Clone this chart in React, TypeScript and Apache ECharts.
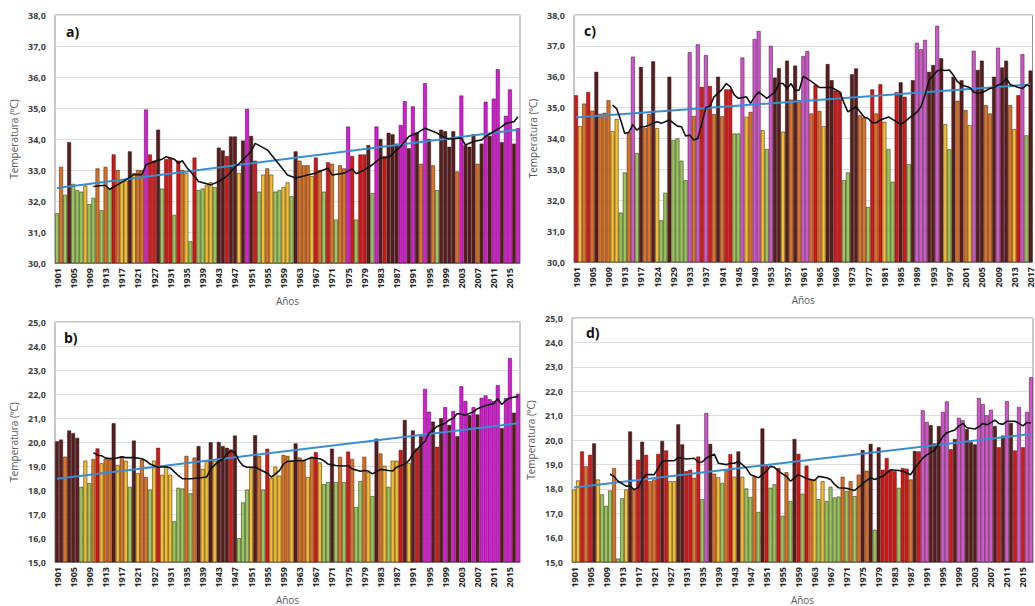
import React, { useEffect, useRef } from "react";
import * as echarts from "echarts";

function yr(a: number, b: number): string[] {
  const r: string[] = [];
  for (let i = a; i <= b; i++) r.push(String(i));
  return r;
}

// Categories (some early years are absent in the source, as its tick labels show)
const yearsABD = [...yr(1901, 1921), "1922", "1924", "1925", ...yr(1927, 2017)];
const yearsC = [...yr(1901, 1917), "1918", "1920", "1922", "1924", "1925", "1926", "1928", ...yr(1929, 2017)];

// Class codes: g green, y yellow, o orange, r red, b dark brown, m magenta
const aVals = [
  31.6, 33.1, 32.2, 33.9, 32.55, 32.35, 32.3, 32.5, 31.9, 32.1,
  33.05, 31.7, 33.1, 32.4, 33.5, 33.0, 32.7, 32.65, 33.6, 32.9,
  33.0, 33.0, 34.95, 33.5, 33.3, 34.3, 32.4, 33.35, 33.4, 31.55,
  33.3, 33.0, 32.9, 30.7, 33.4, 32.35, 32.4, 32.5, 32.6, 32.45,
  33.72, 33.63, 33.45, 34.08, 34.08, 32.9, 33.95, 34.97, 34.1, 33.3,
  32.3, 32.85, 33.05, 32.85, 32.3, 32.35, 32.45, 32.6, 32.15, 33.6,
  33.3, 33.15, 33.15, 32.8, 33.4, 33.0, 32.3, 33.25, 33.2, 31.4,
  33.15, 33.05, 34.4, 33.45, 31.4, 33.5, 33.5, 33.8, 32.25, 34.4,
  34.0, 33.45, 34.2, 34.15, 33.85, 34.45, 35.22, 33.7, 35.05, 34.2,
  33.2, 35.8, 34.0, 33.15, 32.35, 34.3, 34.25, 33.75, 34.25, 32.95,
  35.4, 33.8, 33.75, 34.15, 33.2, 33.85, 35.2, 34.1, 35.3, 36.25,
  33.9, 34.75, 35.6, 33.85, 34.35,
];
const aCls =
  "gogbgggygg" + "ogogroyyby" + "oomrrbgrrg" + "roygrggyyg" + "bbrbbybmbr" +
  "gyoyggyygb" + "oooyrogrog" + "oomrgrrbgm" + "brbbbmmbmb" + "ombogbbbbo" +
  "mbbbobmbmm" + "bmmbm";
const aAvg: [number, number][] = [
  [9, 32.47], [11, 32.5], [12, 32.5], [13, 32.38], [14, 32.45], [17, 32.68], [19, 32.85], [21, 32.85],
  [22, 33.17], [24, 33.27], [26, 33.35], [27, 33.43], [29, 33.35], [30, 33.22], [31, 33.3], [32, 33.1],
  [34, 32.8], [35, 32.63], [38, 32.52], [40, 32.63], [42, 32.8], [44, 33.1], [45, 33.2], [48, 33.6],
  [49, 33.86], [52, 33.65], [54, 33.33], [57, 32.84], [59, 32.74], [62, 32.84], [64, 32.9], [67, 33.06],
  [68, 32.84], [71, 32.9], [73, 33.03], [74, 32.88], [76, 33.0], [78, 33.17], [80, 33.38], [82, 33.41],
  [85, 33.76], [87, 34.08], [89, 34.19], [91, 34.35], [94, 34.19], [96, 34.03], [97, 34.0], [100, 34.03],
  [101, 33.81], [103, 33.92], [105, 33.97], [106, 34.08], [108, 34.24], [110, 34.4], [111, 34.5],
  [113, 34.56], [114, 34.72],
];
const aTrend = [32.42, 34.3];

const bVals = [
  20.03, 20.1, 19.39, 20.48, 20.37, 20.17, 18.13, 19.22, 18.29, 19.29,
  19.73, 19.11, 19.29, 19.29, 20.78, 19.04, 19.39, 19.22, 18.13, 20.06,
  18.7, 19.26, 18.54, 18.02, 19.22, 19.76, 18.63, 18.95, 18.63, 16.7,
  18.09, 18.06, 19.42, 17.86, 19.35, 19.83, 18.88, 19.22, 19.99, 19.22,
  20.0, 19.83, 19.76, 19.69, 20.27, 15.99, 17.48, 18.02, 18.9, 20.28,
  19.42, 18.02, 19.72, 18.5, 18.97, 18.6, 19.46, 19.42, 19.22, 19.94,
  19.35, 19.26, 18.54, 19.38, 19.58, 19.15, 18.24, 18.33, 19.72, 18.33,
  19.38, 18.33, 19.6, 19.29, 17.29, 18.37, 19.38, 18.74, 17.75, 20.14,
  19.52, 19.01, 18.13, 19.22, 19.22, 19.67, 20.92, 19.12, 20.48, 19.73,
  20.24, 22.21, 21.26, 20.85, 19.8, 20.99, 21.45, 20.71, 21.29, 20.24,
  22.32, 21.71, 21.12, 21.45, 21.15, 21.84, 21.94, 21.78, 21.71, 22.37,
  20.58, 21.83, 23.5, 21.22, 22.01,
];
const bCls =
  "bbobbbgygo" + "ryoobyoygb" + "yoogyryyyg" + "ggogobyyby" + "bbbrbgggyb" +
  "ogryyyooyb" + "ooyoryggbg" + "ogroggoygb" + "oygyyrbybr" + "bmmbrbmbmb" +
  "mmbmbmmmmm" + "bmmbm";
const bAvg: [number, number][] = [
  [9, 19.56], [10, 19.45], [11, 19.43], [12, 19.33], [14, 19.3], [16, 19.38], [17, 19.35], [19, 19.35],
  [21, 19.3], [22, 19.22], [23, 19.08], [25, 18.95], [27, 18.97], [28, 18.92], [30, 18.6], [31, 18.47],
  [33, 18.47], [35, 18.5], [37, 18.54], [38, 18.88], [40, 19.2], [41, 19.29], [42, 19.49], [43, 19.63],
  [44, 19.56], [45, 19.22], [46, 19.01], [47, 18.95], [49, 18.95], [51, 18.78], [52, 18.7], [53, 18.54],
  [55, 18.81], [56, 19.08], [57, 19.19], [59, 19.22], [61, 19.22], [62, 19.29], [63, 19.35], [65, 19.3],
  [66, 19.22], [67, 19.08], [69, 19.02], [71, 19.0], [72, 19.02], [73, 18.88], [75, 18.78], [76, 18.81],
  [77, 18.79], [78, 18.67], [80, 18.86], [82, 18.81], [83, 18.79], [84, 18.95], [86, 19.08], [87, 19.22],
  [88, 19.49], [89, 19.7], [91, 20.03], [92, 20.37], [93, 20.51], [94, 20.65], [96, 20.78], [97, 20.92],
  [98, 20.99], [99, 21.19], [101, 21.12], [103, 21.26], [104, 21.39], [105, 21.46], [107, 21.56],
  [108, 21.6], [109, 21.8], [110, 21.56], [111, 21.73], [112, 21.83], [114, 21.9],
];
const bTrend = [18.47, 20.78];

const cVals = [
  35.4, 34.4, 35.13, 35.5, 34.9, 36.16, 34.8, 34.83, 35.24, 34.24,
  34.63, 31.6, 32.9, 34.2, 36.65, 33.53, 36.32, 34.33, 34.8, 36.5,
  34.33, 31.35, 32.24, 36.0, 33.95, 34.0, 33.28, 32.65, 36.79, 34.73,
  37.05, 35.67, 36.7, 35.7, 34.79, 36.0, 34.72, 35.59, 35.59, 34.16,
  34.16, 36.62, 34.7, 34.86, 37.22, 37.48, 34.27, 33.66, 37.0, 35.97,
  36.28, 34.22, 36.52, 35.26, 36.36, 35.24, 36.67, 36.83, 34.81, 35.73,
  34.89, 34.4, 36.41, 35.89, 35.55, 35.5, 32.65, 32.9, 36.08, 36.27,
  34.75, 34.68, 31.78, 35.59, 34.81, 35.76, 34.54, 33.65, 32.6, 35.5,
  35.82, 35.35, 33.17, 35.89, 37.1, 36.89, 37.19, 36.16, 36.38, 37.65,
  36.6, 34.46, 33.65, 36.0, 35.22, 35.89, 34.92, 34.43, 36.84, 36.22,
  36.52, 35.08, 34.81, 36.0, 36.94, 36.3, 36.52, 35.08, 34.3, 35.4,
  36.73, 34.1, 36.2,
];
const cCls =
  "ryoroboooy" + "yggomgboob" + "yggbggggmo" + "mrmroborrg" + "gmyommygmb" +
  "bybobommor" + "oybbrrggbb" + "oogroryggr" + "brgbmmmbbm" + "bygboboymb" +
  "boobmbboyr" + "mgb";
const cAvg: [number, number][] = [
  [9, 35.08], [10, 34.97], [11, 34.6], [12, 34.16], [13, 34.2], [14, 34.45], [15, 34.27], [16, 34.38],
  [17, 34.38], [19, 34.49], [20, 34.54], [21, 34.49], [23, 34.6], [25, 34.4], [26, 34.38], [27, 34.08],
  [28, 34.11], [29, 33.95], [30, 34.0], [31, 34.49], [32, 35.0], [33, 35.05], [34, 35.35], [36, 35.59],
  [37, 35.78], [38, 35.68], [39, 35.41], [40, 35.3], [42, 35.35], [43, 35.14], [44, 35.35], [45, 35.51],
  [47, 35.3], [49, 35.5], [50, 35.78], [51, 35.78], [52, 35.62], [53, 35.78], [54, 35.55], [55, 35.57],
  [56, 36.02], [58, 35.85], [60, 35.65], [61, 35.65], [63, 35.65], [65, 35.51], [66, 35.16], [67, 34.86],
  [69, 35.03], [71, 34.7], [72, 34.65], [73, 34.51], [74, 34.51], [75, 34.6], [77, 34.7], [79, 34.54],
  [80, 34.46], [81, 34.54], [82, 34.65], [84, 34.85], [85, 35.03], [86, 35.41], [87, 35.89], [89, 36.19],
  [90, 36.22], [91, 36.2], [92, 36.22], [93, 36.05], [94, 35.84], [95, 35.73], [97, 35.65], [98, 35.51],
  [99, 35.46], [100, 35.48], [102, 35.62], [103, 35.65], [104, 35.73], [105, 35.78], [106, 35.95],
  [107, 35.75], [109, 35.65], [110, 35.62], [111, 35.73], [112, 35.7],
];
const cTrend = [34.68, 35.75];

const dVals = [
  17.97, 18.34, 19.53, 18.92, 19.39, 19.86, 18.38, 17.77, 17.3, 17.93,
  18.85, 15.14, 17.61, 17.97, 20.35, 17.97, 19.19, 19.93, 19.39, 18.31,
  18.38, 19.43, 19.96, 19.57, 18.31, 18.31, 20.64, 19.82, 18.72, 18.78,
  18.45, 19.32, 17.57, 21.11, 19.84, 18.62, 18.47, 18.24, 18.78, 19.42,
  18.49, 19.53, 18.49, 18.01, 17.66, 18.51, 17.05, 20.47, 18.96, 18.04,
  18.18, 18.85, 16.89, 18.68, 17.5, 20.04, 19.43, 17.8, 18.95, 18.38,
  18.38, 17.57, 18.31, 17.5, 18.08, 17.64, 17.68, 18.49, 17.91, 18.31,
  17.7, 18.58, 19.59, 18.74, 19.84, 16.32, 19.7, 18.78, 19.26, 18.78,
  18.72, 18.04, 18.85, 18.82, 18.38, 19.55, 19.53, 21.22, 20.74, 20.61,
  19.86, 20.57, 21.15, 21.58, 19.62, 20.04, 20.91, 20.81, 20.45, 19.91,
  19.82, 21.72, 21.47, 21.01, 21.24, 20.57, 19.7, 20.18, 21.59, 20.7,
  19.57, 21.35, 19.7, 21.15, 22.57,
];
const dCls =
  "yyrorbyggg" + "oggyborbro" + "orbryybbrr" + "orgmboygor" + "ybyggogbrg" +
  "grgogbrgro" + "ygyggggogo" + "gobobgbrrr" + "rgrrobrmmb" + "bbmmrbmmbb" +
  "bmmmmbrbmb" + "rmrmm";
const dAvg: [number, number][] = [
  [9, 18.6], [10, 18.5], [11, 18.31], [13, 18.11], [14, 18.11], [15, 17.97], [16, 18.04], [17, 18.38],
  [18, 18.58], [20, 18.58], [21, 18.85], [22, 19.12], [23, 19.15], [25, 19.15], [26, 19.28], [27, 19.25],
  [28, 19.22], [30, 19.25], [31, 19.09], [32, 19.1], [33, 19.26], [35, 19.42], [36, 19.05], [38, 18.99],
  [39, 19.05], [40, 19.05], [41, 19.12], [43, 18.85], [44, 18.58], [45, 18.52], [46, 18.45], [48, 18.72],
  [49, 18.92], [50, 18.88], [51, 18.72], [53, 18.51], [54, 18.31], [55, 18.45], [56, 18.58], [58, 18.42],
  [59, 18.38], [60, 18.34], [61, 18.51], [63, 18.45], [64, 18.38], [65, 18.18], [66, 18.04], [68, 18.02],
  [69, 17.97], [70, 17.93], [71, 18.07], [73, 18.34], [74, 18.45], [75, 18.38], [77, 18.51], [78, 18.65],
  [79, 18.78], [81, 18.75], [82, 18.72], [83, 18.65], [84, 18.58], [85, 18.85], [86, 19.05], [87, 19.26],
  [88, 19.39], [90, 19.59], [91, 19.86], [92, 20.14], [93, 20.3], [95, 20.41], [96, 20.57], [97, 20.68],
  [98, 20.5], [100, 20.45], [101, 20.54], [102, 20.68], [103, 20.62], [105, 20.81], [106, 20.68],
  [107, 20.64], [108, 20.77], [110, 20.77], [111, 20.68], [112, 20.58], [113, 20.72], [114, 20.7],
];
const dTrend = [18.05, 20.25];

const yTicksAC = { min: 30, max: 38 };
const yTicksBD = { min: 15, max: 25 };

const colorsAB: Record<string, string> = {
  g: "#96C957", y: "#F5BF27", o: "#E0721F", r: "#E01212", b: "#5A1C1C", m: "#E313E3",
};
const colorsCD: Record<string, string> = { ...colorsAB, m: "#D353D1" };

const FONT = "'Open Sans', 'Liberation Sans', sans-serif";

const panels = [
  { tag: "a)", cats: yearsABD, vals: aVals, cls: aCls, avg: aAvg, trend: aTrend, rng: yTicksAC, colors: colorsAB,
    grid: { left: 55, top: 15, width: 465, height: 248 }, tagPos: [66, 24] },
  { tag: "b)", cats: yearsABD, vals: bVals, cls: bCls, avg: bAvg, trend: bTrend, rng: yTicksBD, colors: colorsAB,
    grid: { left: 55, top: 322, width: 465, height: 245 }, tagPos: [64, 330] },
  { tag: "c)", cats: yearsC, vals: cVals, cls: cCls, avg: cAvg, trend: cTrend, rng: yTicksAC, colors: colorsCD,
    grid: { left: 574, top: 15, width: 462, height: 247 }, tagPos: [584, 23] },
  { tag: "d)", cats: yearsABD, vals: dVals, cls: dCls, avg: dAvg, trend: dTrend, rng: yTicksBD, colors: colorsCD,
    grid: { left: 572, top: 318, width: 461, height: 247 }, tagPos: [586, 325] },
];

export default function App() {
  const ref = useRef<HTMLDivElement>(null);
  useEffect(() => {
    if (!ref.current) return;
    const chart = echarts.init(ref.current, undefined, { renderer: "svg" });
    const grid: any[] = [];
    const xAxis: any[] = [];
    const yAxis: any[] = [];
    const series: any[] = [];
    const graphic: any[] = [];
    panels.forEach((p, k) => {
      grid.push({ ...p.grid, show: true, borderColor: "#8f8f8f", borderWidth: 1, backgroundColor: "#fff" });
      xAxis.push({
        type: "category", gridIndex: k, data: p.cats,
        axisTick: { show: false },
        axisLine: { lineStyle: { color: "#8f8f8f" } },
        axisLabel: { interval: 3, rotate: 90, fontSize: 9, fontWeight: "bold", color: "#262626", margin: 5, fontFamily: FONT },
        name: "Años", nameLocation: "middle", nameGap: 33,
        nameTextStyle: { fontSize: 10, color: "#595959", fontFamily: FONT },
      });
      yAxis.push({
        type: "value", gridIndex: k, min: p.rng.min, max: p.rng.max, interval: 1,
        axisLine: { show: false }, axisTick: { show: false },
        splitLine: { lineStyle: { color: "#dcdcdc" } },
        axisLabel: {
          fontSize: 9, fontWeight: "bold", color: "#404040", margin: 9, fontFamily: FONT,
          formatter: (v: number) => v.toFixed(1).replace(".", ","),
        },
        name: "Temperatura (ºC)", nameLocation: "middle", nameGap: 36,
        nameTextStyle: { fontSize: 10, color: "#595959", fontFamily: FONT },
      });
      series.push({
        type: "bar", xAxisIndex: k, yAxisIndex: k, barCategoryGap: "5%",
        itemStyle: { borderColor: "#2b1b1b", borderWidth: 0.5 },
        data: p.vals.map((v, i) => ({ value: v, itemStyle: { color: p.colors[p.cls[i]] } })),
        z: 2,
      });
      series.push({
        type: "line", xAxisIndex: k, yAxisIndex: k, showSymbol: false, symbol: "none",
        lineStyle: { color: "#3C8CD2", width: 2 },
        data: [[p.cats[0], p.trend[0]], [p.cats[p.cats.length - 1], p.trend[1]]],
        z: 3,
      });
      series.push({
        type: "line", xAxisIndex: k, yAxisIndex: k, showSymbol: false, symbol: "none",
        lineStyle: { color: "#111", width: 1.6 },
        data: p.avg.map(([i, v]) => [p.cats[i], v]),
        z: 4,
      });
      graphic.push({
        type: "text", left: p.tagPos[0], top: p.tagPos[1], z: 10,
        style: { text: p.tag, font: `bold 14px ${FONT}`, fill: "#111" },
      });
    });
    chart.setOption({ animation: false, backgroundColor: "#fff", grid, xAxis, yAxis, series, graphic });
    return () => chart.dispose();
  }, []);
  return (
    <div style={{ position: "fixed", left: 0, top: 0, width: 1035, height: 606, overflow: "hidden", background: "#fff" }}>
      <div ref={ref} style={{ width: 1035, height: 606 }} />
    </div>
  );
}
